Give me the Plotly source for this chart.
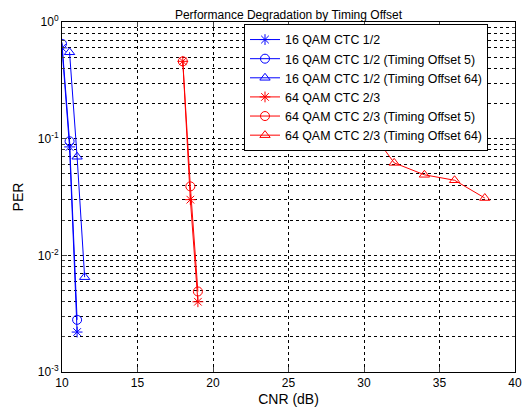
import plotly.graph_objects as go

# ---- data ----
x_16 = [10, 10.5, 11]
per_16 = [0.60, 0.085, 0.0022]
x_16_to5 = [10, 10.5, 11]
per_16_to5 = [0.65, 0.095, 0.0028]
x_16_to64 = [10.5, 11, 11.5]
per_16_to64 = [0.55, 0.07, 0.0065]

x_64 = [18, 18.5, 19]
per_64 = [0.46, 0.030, 0.0040]
x_64_to5 = [18, 18.5, 19]
per_64_to5 = [0.46, 0.039, 0.0049]
x_64_to64 = [26, 28, 30, 32, 34, 36, 38]
per_64_to64 = [0.45, 0.25, 0.14, 0.062, 0.049, 0.044, 0.031]

names = [
    "16 QAM CTC 1/2",
    "16 QAM CTC 1/2 (Timing Offset 5)",
    "16 QAM CTC 1/2 (Timing Offset 64)",
    "64 QAM CTC 2/3",
    "64 QAM CTC 2/3 (Timing Offset 5)",
    "64 QAM CTC 2/3 (Timing Offset 64)",
]
xs = [x_16, x_16_to5, x_16_to64, x_64, x_64_to5, x_64_to64]
ys = [per_16, per_16_to5, per_16_to64, per_64, per_64_to5, per_64_to64]
colors = ["#0000ff"] * 3 + ["#ff0000"] * 3
symbols = ["asterisk-open", "circle-open", "triangle-up-open"] * 2

x_ticks = [10, 15, 20, 25, 30, 35, 40]
y_ticks = [1, 0.1, 0.01, 0.001]
y_ticktext = ["10<sup>0</sup>", "10<sup>-1</sup>", "10<sup>-2</sup>", "10<sup>-3</sup>"]

FONT = "Liberation Sans, Arial, sans-serif"

fig = go.Figure()
for x, y, n, c, s in zip(xs, ys, names, colors, symbols):
    fig.add_trace(go.Scatter(
        x=x, y=y, name=n, mode="lines+markers",
        line=dict(color=c, width=1),
        marker=dict(symbol=s, size=9, color=c, line=dict(color=c, width=1)),
    ))

grid = dict(gridcolor="#000000", gridwidth=1, griddash="3px,3px")

# page body has an 8px default margin, so the figure is 8px smaller
W, H = 523, 403
fig.update_layout(
    width=W, height=H,
    margin=dict(l=54, r=16, t=14, b=39, autoexpand=False),
    paper_bgcolor="white", plot_bgcolor="white",
    font=dict(family=FONT, size=12, color="black"),
    title=dict(text="Performance Degradation by Timing Offset",
               x=(54 + 507) / 2 / W, xanchor="center",
               y=1 - 7 / H, yanchor="middle",
               font=dict(size=12, family=FONT)),
    showlegend=True,
    legend=dict(
        x=(244 - 62) / 453, xanchor="left",
        y=(372 - 24) / 350, yanchor="top",
        bgcolor="white", bordercolor="black", borderwidth=1,
        font=dict(size=12.4, family=FONT),
        tracegroupgap=0, itemwidth=30,
    ),
)
fig.update_xaxes(
    range=[10, 40], tickvals=x_ticks, ticks="inside", ticklen=5,
    showline=True, linecolor="black", linewidth=1, mirror="ticks",
    showgrid=True, zeroline=False, automargin=False,
    title=dict(text="CNR (dB)", standoff=4),
    **grid,
)
fig.update_yaxes(
    type="log", range=[-3, 0], tickvals=y_ticks, ticktext=y_ticktext,
    ticks="inside", ticklen=5,
    showline=True, linecolor="black", linewidth=1, mirror="ticks",
    showgrid=True, zeroline=False, automargin=False,
    title=dict(text="PER", standoff=10),
    minor=dict(dtick="D1", ticks="inside", ticklen=3, showgrid=True,
               gridcolor="#000000", gridwidth=1, griddash="3px,3px"),
    **grid,
)

fig.write_html("out.html")
